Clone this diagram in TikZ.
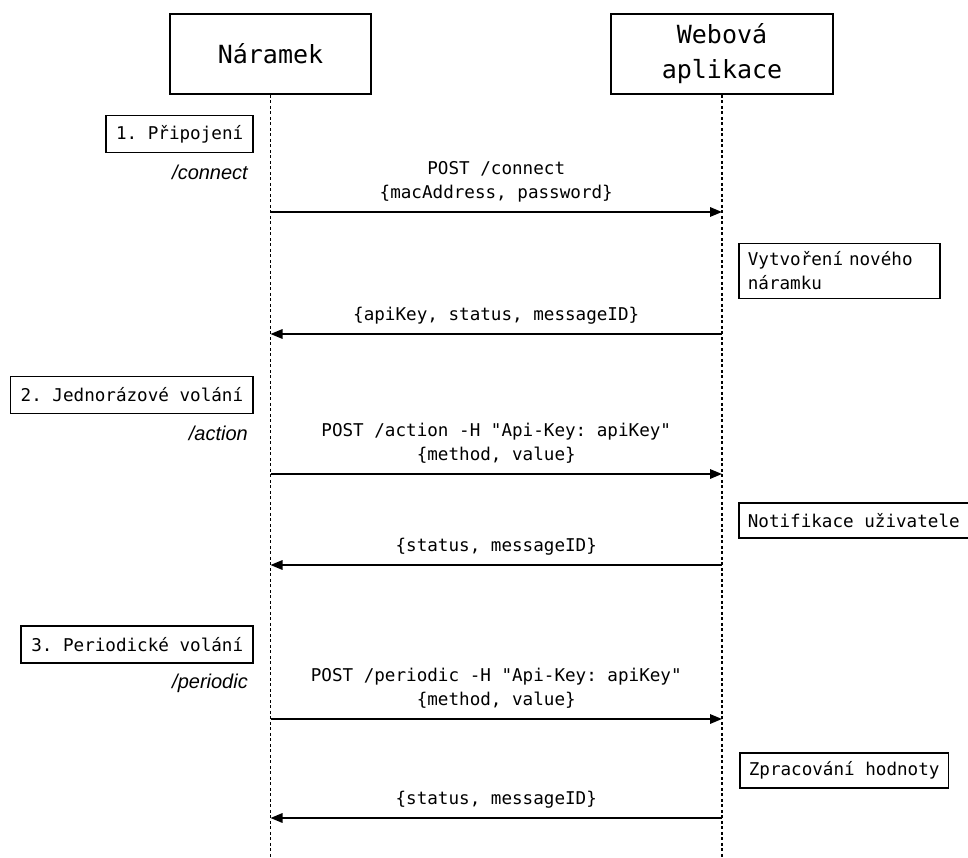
\documentclass[tikz,border=0pt]{standalone}
\usepackage{fontspec}
\setmainfont{Liberation Sans}
\setmonofont{DejaVu Sans Mono}
\usetikzlibrary{arrows.meta,positioning,calc}

\tikzset{
    actor/.style={draw, line width=1.6pt, minimum height=80pt, align=center,
        font=\ttfamily\fontsize{25}{35}\selectfont},
    lifeline/.style={line width=1.8pt, dash pattern=on 3pt off 2.5pt},
    msg/.style={line width=1.6pt, -{Triangle[length=12pt,width=9.5pt]}},
    msglabel/.style={midway, above=12.5pt, inner sep=0pt, text depth=0pt, align=center,
        font=\ttfamily\fontsize{17.6}{24}\selectfont},
    phase/.style={draw, line width=1.6pt, anchor=east, inner xsep=10pt, minimum height=37pt,
        font=\ttfamily\fontsize{17.6}{24}\selectfont},
    note/.style={draw, line width=1.6pt, anchor=west, align=left, inner xsep=9pt, inner ysep=8.5pt,
        minimum height=35pt, font=\ttfamily\fontsize{17.6}{24}\selectfont},
    route/.style={anchor=east, inner sep=0pt, font=\itshape\fontsize{20}{22}\selectfont}
}

\begin{document}
\begin{tikzpicture}[x=1pt, y=-1pt]
    \useasboundingbox (0, 0) rectangle (968, 858);

    % ucastnici
    \node[actor, minimum width=201pt] (naramek) at (270.5, 54) {Náramek};
    \node[actor, minimum width=222pt] (webapp) at (722, 54) {Webová\\aplikace};

    \draw[lifeline] (naramek.south) -- (naramek.south |- 0, 858);
    \draw[lifeline] (webapp.south) -- (webapp.south |- 0, 858);

    \foreach \i/\y in {1/212, 2/334, 3/474, 4/565, 5/719, 6/818} {
        \coordinate (n\i) at (naramek.south |- 0, \y);
        \coordinate (w\i) at (webapp.south |- 0, \y);
    }

    % 1. pripojeni
    \node[phase] (phase1) at (254, 134) {1. Připojení};
    \node[route] (route1) at (248, 172) {/connect};
    \draw[msg] (n1) -- node[msglabel] {POST /connect\\\{macAddress, password\}} (w1);
    \node[note, text width=183pt] (note1) at (738, 271) {Vytvoření nového\\náramku};
    \draw[msg] (w2) -- node[msglabel] {\{apiKey, status, messageID\}} (n2);

    % 2. jednorazove volani
    \node[phase] (phase2) at (254, 395) {2. Jednorázové volání};
    \node[route] (route2) at (248, 433) {/action};
    \draw[msg] (n3) -- node[msglabel] {POST /action -H "Api-Key: apiKey"\\\{method, value\}} (w3);
    \node[note] (note2) at (738, 520.5) {Notifikace uživatele};
    \draw[msg] (w4) -- node[msglabel] {\{status, messageID\}} (n4);

    % 3. periodicke volani
    \node[phase] (phase3) at (254, 644.5) {3. Periodické volání};
    \node[route] (route3) at (248, 683) {/periodic};
    \draw[msg] (n5) -- node[msglabel] {POST /periodic -H "Api-Key: apiKey"\\\{method, value\}} (w5);
    \node[note] (note3) at (739, 770.5) {Zpracování hodnoty};
    \draw[msg] (w6) -- node[msglabel] {\{status, messageID\}} (n6);
\end{tikzpicture}
\end{document}
